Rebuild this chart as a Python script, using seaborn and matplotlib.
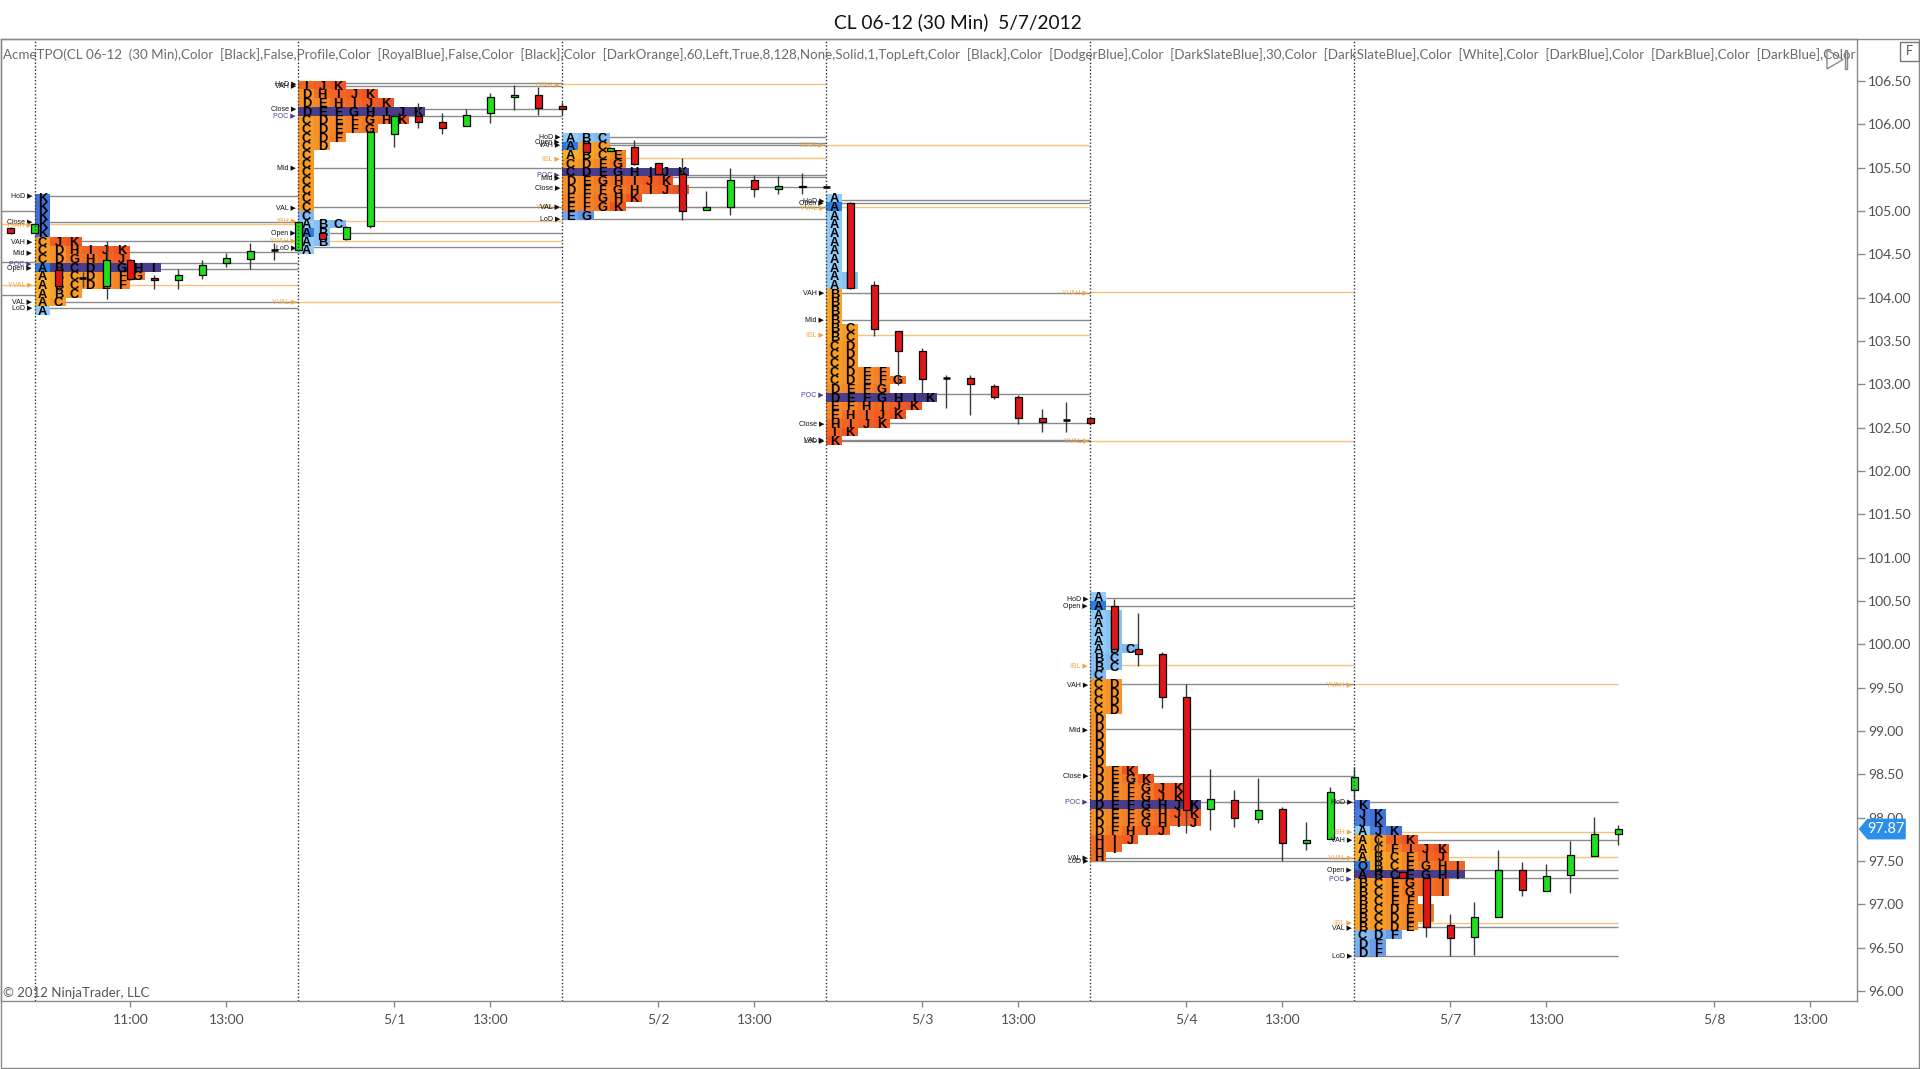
import numpy as np
import pandas as pd
import matplotlib
matplotlib.use("Agg")
import matplotlib.pyplot as plt
from matplotlib.patches import Rectangle, Polygon
from matplotlib.colors import to_rgb
import seaborn as sns

# ---------------- texts ----------------
title_text = "CL 06-12 (30 Min)  5/7/2012"
param_text = ("AcmeTPO(CL 06-12  (30 Min),Color  [Black],False,Profile,Color  [RoyalBlue],False,"
              "Color  [Black],Color  [DarkOrange],60,Left,True,8,128,None,Solid,1,TopLeft,"
              "Color  [Black],Color  [DodgerBlue],Color  [DarkSlateBlue],30,Color  [DarkSlateBlue],"
              "Color  [White],Color  [DarkBlue],Color  [DarkBlue],Color  [DarkBlue],Color  [DarkBlue]")
copyright_text = "\u00a9 2012 NinjaTrader, LLC"
last_price = 97.87

# ---------------- 30-min bars (index 0 = first bar of 4/30 session) ----------------
bar_index = list(range(-1, 67))
bar_open = [104.80, 104.74,
            104.32, 104.22, 104.13, 104.43, 104.22, 104.20, 104.26, 104.40, 104.45, 104.55, 104.55,
            104.75, 104.67, 104.82, 105.89, 106.09, 106.02, 105.98, 106.13, 106.31, 106.34, 106.21,
            105.78, 105.69, 105.74, 105.55, 105.43, 105.01, 105.04, 105.36, 105.25, 105.29, 105.27,
            105.09, 104.14, 103.61, 103.38, 103.07, 103.07, 102.98, 102.85, 102.61, 102.59, 102.61,
            100.44, 99.95, 99.89, 99.39, 98.10, 98.21, 97.98, 98.10, 97.71, 97.76, 98.32,
            97.40, 97.37, 97.30, 96.76, 96.62, 96.85, 97.40, 97.16, 97.34, 97.56, 97.81]
bar_high = [104.81, 104.85,
            104.38, 104.30, 104.65, 104.44, 104.26, 104.33, 104.43, 104.51, 104.63, 104.63, 104.88,
            104.76, 104.82, 105.93, 106.13, 106.25, 106.13, 106.17, 106.36, 106.45, 106.43, 106.26,
            105.79, 105.74, 105.82, 105.55, 105.61, 105.23, 105.49, 105.41, 105.40, 105.44, 105.30,
            105.10, 104.19, 103.61, 103.42, 103.11, 103.11, 103.00, 102.88, 102.71, 102.80, 102.62,
            100.52, 100.36, 99.91, 99.54, 98.56, 98.32, 98.46, 98.12, 97.95, 98.36, 98.58,
            97.78, 97.38, 97.34, 96.89, 97.03, 97.63, 97.49, 97.47, 97.73, 98.01, 97.92]
bar_low = [104.73, 104.74,
           104.08, 104.12, 103.98, 104.20, 104.10, 104.10, 104.21, 104.35, 104.33, 104.43, 104.55,
           104.67, 104.66, 104.80, 105.74, 105.96, 105.89, 105.98, 106.01, 106.16, 106.11, 106.11,
           105.67, 105.69, 105.53, 105.41, 104.90, 105.01, 104.95, 105.16, 105.19, 105.19, 105.25,
           104.10, 103.56, 102.99, 102.88, 102.73, 102.65, 102.83, 102.54, 102.45, 102.45, 102.53,
           99.93, 99.75, 99.27, 97.82, 97.86, 97.89, 97.94, 97.50, 97.63, 97.75, 98.22,
           97.28, 97.30, 96.62, 96.41, 96.42, 96.85, 97.10, 97.16, 97.13, 97.56, 97.69]
bar_close = [104.74, 104.85,
             104.13, 104.22, 104.43, 104.21, 104.20, 104.26, 104.38, 104.46, 104.54, 104.55, 104.87,
             104.68, 104.81, 105.91, 106.09, 106.02, 105.96, 106.11, 106.31, 106.34, 106.19, 106.17,
             105.68, 105.73, 105.54, 105.43, 105.00, 105.04, 105.36, 105.25, 105.29, 105.27, 105.27,
             104.11, 103.64, 103.38, 103.06, 103.07, 103.00, 102.85, 102.61, 102.57, 102.59, 102.55,
             99.95, 99.89, 99.39, 98.09, 98.22, 98.00, 98.09, 97.71, 97.74, 98.30, 98.47,
             97.40, 97.31, 96.74, 96.61, 96.85, 97.40, 97.17, 97.33, 97.57, 97.81, 97.87]

# ---------------- sessions ----------------
session_start = [0, 11, 22, 33, 44, 55]
session_len = 11

# TPO profiles: top row price, rows of letters (top -> bottom), VA high / low, POC row, open row
tpo_top = [105.15, 106.45, 105.85, 105.15, 100.55, 98.15]
tpo_rows_1 = ["K", "K", "K", "K", "K", "CJK", "CDHIJK", "CDGHIJ", "ABCDEGHI", "ABCDEFG",
              "ABCDEF", "ABC", "AC", "A"]
tpo_rows_2 = ["IJK", "DHIJK", "DEHIJK", "DEFGHIJK", "CDEFGHK", "CDEFG", "CDF", "CD",
              "C", "C", "C", "C", "C", "C", "C", "C", "ABC", "AB", "AB", "A"]
tpo_rows_3 = ["ABC", "ABC", "ABCE", "CDEG", "CDEGHIJK", "DEGHIJK", "DEFGHIJK", "EFGHK",
              "EFGK", "EG"]
tpo_rows_4 = ["A", "A", "A", "A", "A", "A", "A", "A", "A", "AB", "AB",
              "B", "B", "B", "B", "BC", "BC", "CD", "CD", "CD", "CDEF", "CDEFG", "DEFG",
              "DEFGHIK", "EFHIJK", "EHIJK", "HIJK", "IK", "K"]
tpo_rows_5 = ["A", "A", "AB", "AB", "AB", "AB", "ABC", "BC", "BC", "C",
              "CD", "CD", "CD", "CD", "D", "D", "D", "D", "D", "D",
              "DEK", "DEGK", "DEFGJK", "DEFGJK", "DEFGHJK", "DEFGHJK", "DEFGHIJ", "DFHIJ",
              "HIJ", "HI", "H"]
tpo_rows_6 = ["K", "JK", "JK", "AJK", "ACIK", "ACFIJK", "ABCEIJ", "OBCEGHI", "ABCEGHI",
              "BCEGHI", "BCEGHI", "BCEF", "BCDEF", "BCDEF", "BCDE", "CDF", "DF", "DF"]
tpo_rows = [tpo_rows_1, tpo_rows_2, tpo_rows_3, tpo_rows_4, tpo_rows_5, tpo_rows_6]
tpo_va_high = [104.65, 106.45, 105.75, 104.05, 99.55, 97.75]
tpo_va_low = [103.95, 105.05, 105.05, 102.35, 97.55, 96.75]
tpo_poc = [104.35, 106.15, 105.45, 102.85, 98.15, 97.35]
tpo_open = [104.35, 104.75, 105.75, 105.05, 100.45, 97.45]

# level lines per session: (label, price, kind) kind: g=gray, o=orange, p=poc
levels_1 = [("HoD", 105.17, "g"), ("Close", 104.875, "g"), ("YVAH", 104.845, "o"),
            ("VAH", 104.65, "g"), ("Mid", 104.52, "g"), ("POC", 104.395, "p"),
            ("Open", 104.33, "g"), ("YVAL", 104.145, "o"), ("VAL", 103.95, "g"),
            ("LoD", 103.88, "g")]
levels_2 = [("HoD", 106.47, "g"), ("VAH", 106.44, "g"), ("Close", 106.18, "g"),
            ("POC", 106.10, "p"), ("Mid", 105.50, "g"), ("VAL", 105.04, "g"),
            ("IBH", 104.887, "o"), ("Open", 104.74, "g"), ("YVAH", 104.656, "o"),
            ("LoD", 104.58, "g"), ("YVAL", 103.95, "o")]
levels_3 = [("YVAH", 106.46, "o"), ("HoD", 105.856, "g"), ("Open", 105.787, "g"),
            ("VAH", 105.76, "g"), ("IBL", 105.606, "o"), ("POC", 105.414, "p"),
            ("Mid", 105.387, "g"), ("Close", 105.27, "g"), ("YVAL", 105.05, "o"),
            ("VAL", 105.05, "g"), ("LoD", 104.906, "g")]
levels_4 = [("YVAH", 105.76, "o"), ("HoD", 105.12, "g"), ("Open", 105.09, "g"),
            ("YVAL", 105.04, "o"), ("VAH", 104.056, "g"), ("Mid", 103.741, "g"),
            ("IBL", 103.568, "o"), ("POC", 102.883, "p"), ("Close", 102.549, "g"),
            ("VAL", 102.36, "g"), ("LoD", 102.345, "g")]
levels_5 = [("YVAH", 104.06, "o"), ("YVAL", 102.35, "o"), ("HoD", 100.53, "g"),
            ("Open", 100.44, "g"), ("IBL", 99.76, "o"), ("VAH", 99.54, "g"),
            ("Mid", 99.02, "g"), ("Close", 98.48, "g"), ("POC", 98.185, "p"),
            ("VAL", 97.54, "g"), ("LoD", 97.50, "g")]
levels_6 = [("YVAH", 99.54, "o"), ("HoD", 98.18, "g"), ("IBH", 97.84, "o"),
            ("VAH", 97.743, "g"), ("YVAL", 97.543, "o"), ("Open", 97.397, "g"),
            ("POC", 97.30, "p"), ("IBL", 96.79, "o"), ("VAL", 96.736, "g"),
            ("LoD", 96.405, "g")]
levels = [levels_1, levels_2, levels_3, levels_4, levels_5, levels_6]
prior_levels = [105.00, 104.41, 104.03]   # lines of the 4/27 session reaching into view

x_tick_pos = [4, 8, 15, 19, 26, 30, 37, 41, 48, 52, 59, 63, 70, 74]
x_tick_labels = ["11:00", "13:00", "5/1", "13:00", "5/2", "13:00", "5/3", "13:00",
                 "5/4", "13:00", "5/7", "13:00", "5/8", "13:00"]
y_ticks = [96.0, 96.5, 97.0, 97.5, 98.0, 98.5, 99.0, 99.5, 100.0, 100.5, 101.0, 101.5,
           102.0, 102.5, 103.0, 103.5, 104.0, 104.5, 105.0, 105.5, 106.0, 106.5]

# ---------------- style ----------------
sns.set_theme(style="white")
plt.rcParams['font.family'] = ['Lato', 'DejaVu Sans']

W, H = 1920, 1069
fig = plt.figure(figsize=(W / 100, H / 100), dpi=100)
fig.patch.set_facecolor("white")
AX_L, AX_R, AX_T, AX_B = 1.0, 1857.0, 39.3, 1001.0
ax = fig.add_axes([AX_L / W, 1 - AX_B / H, (AX_R - AX_L) / W, (AX_B - AX_T) / H])
ax.set_facecolor("white")
x_min, x_max = -1.396, 75.94
y_min, y_max = 95.886, 106.979
ax.set_xlim(x_min, x_max)
ax.set_ylim(y_min, y_max)

GRAY_LINE = "#8a8a8a"
ORANGE_LINE = "#f5c27c"
ORANGE_TEXT = "#f0a640"
POC_TEXT = "#483d8b"
UP = "#1ee11e"
DOWN = "#e31616"
CELL_W = 0.66
ROW_H = 0.1
LETTERS = "ABCDEFGHIJK"


def mix(c1, c2, t):
    a, b = to_rgb(c1), to_rgb(c2)
    return tuple(x + (y - x) * t for x, y in zip(a, b))


def cell_color(ch, in_va, is_poc, is_open_first):
    if is_open_first:
        return "#2a7fe0"
    if is_poc:
        return "#483d8b"
    t = (LETTERS.index(ch) if ch in LETTERS else 0) / 10.0
    if in_va:
        return mix("#f8ad2b", "#f05422", t)
    return mix("#93cbf7", "#4070da", t)


# ---------------- level lines ----------------
for lv in prior_levels:
    ax.hlines(lv, x_min, session_start[0], color=GRAY_LINE, lw=1, zorder=1)

for s, lvls in enumerate(levels):
    xs = session_start[s]
    xe = xs + session_len
    for lab, price, kind in lvls:
        x_from = x_min if (s == 0 and kind == "o") else xs
        col = ORANGE_LINE if kind == "o" else GRAY_LINE
        ax.hlines(price, x_from, xe, color=col, lw=1, zorder=1)
        tcol = ORANGE_TEXT if kind == "o" else (POC_TEXT if kind == "p" else "#111111")
        ax.text(xs - 0.1, price, lab + " \u25b6", ha="right", va="center", fontsize=5,
                color=tcol, family=["Liberation Sans", "DejaVu Sans"], zorder=7)

# ---------------- TPO profiles ----------------
for s in range(len(tpo_rows)):
    x0 = session_start[s]
    for i, row in enumerate(tpo_rows[s]):
        price = round(tpo_top[s] - ROW_H * i, 2)
        in_va = tpo_va_low[s] - 1e-6 <= price <= tpo_va_high[s] + 1e-6
        is_poc = abs(price - tpo_poc[s]) < 1e-6
        is_open = abs(price - tpo_open[s]) < 1e-6
        lefts = [x0 + k * CELL_W for k in range(len(row))]
        cols = [cell_color(ch, in_va, is_poc, is_open and k == 0) for k, ch in enumerate(row)]
        ax.bar(lefts, ROW_H, bottom=price - ROW_H / 2, width=CELL_W, align="edge",
               color=cols, linewidth=0, zorder=2)
        for k, ch in enumerate(row):
            ax.text(x0 + (k + 0.5) * CELL_W, price - 0.052, ch, ha="center", va="baseline",
                    fontsize=9.3, fontweight="bold", color="black",
                    family=["Liberation Sans", "DejaVu Sans"], zorder=3)

# ---------------- candles ----------------
bars = pd.DataFrame({"x": bar_index, "o": bar_open, "h": bar_high, "l": bar_low, "c": bar_close})
ax.vlines(bars["x"], bars["l"], bars["h"], color="#3a3a3a", lw=1, zorder=4)
up = bars[bars["c"] > bars["o"]]
dn = bars[bars["c"] < bars["o"]]
dj = bars[bars["c"] == bars["o"]]
ax.bar(up["x"], up["c"] - up["o"], bottom=up["o"], width=0.27, color=UP,
       edgecolor="black", linewidth=0.9, zorder=5)
ax.bar(dn["x"], dn["o"] - dn["c"], bottom=dn["c"], width=0.27, color=DOWN,
       edgecolor="black", linewidth=0.9, zorder=5)
ax.hlines(dj["c"], dj["x"] - 0.14, dj["x"] + 0.14, color="black", lw=1.8, zorder=5)

# ---------------- session separators ----------------
for xs in session_start:
    ax.axvline(xs, color="#333333", lw=1, ls=(0, (1, 1.5)), zorder=6)

# ---------------- axes ----------------
ax.yaxis.tick_right()
ax.set_yticks(y_ticks)
ax.set_yticklabels([f"{v:.2f}" for v in y_ticks])
ax.set_xticks(x_tick_pos)
ax.set_xticklabels(x_tick_labels)
ax.tick_params(axis="y", which="major", left=False, right=True, length=6, width=1,
               color=GRAY_LINE, labelsize=10, labelcolor="#505050", pad=2)
ax.tick_params(axis="x", which="major", bottom=True, length=4, width=1,
               color=GRAY_LINE, labelsize=10, labelcolor="#505050", pad=5)
ax.grid(False)
for sp in ax.spines.values():
    sp.set_color(GRAY_LINE)
    sp.set_linewidth(1)
    sp.set_visible(True)

ax.text(0.0012, 0.9844, param_text, transform=ax.transAxes, ha="left", va="center",
        fontsize=9.6, color="#6b6b6b", clip_on=True, zorder=8)
ax.text(0.0012, 0.0083, copyright_text, transform=ax.transAxes, ha="left", va="center",
        fontsize=9.5, color="#555555", zorder=8)

# last price tag
ytr = ax.get_yaxis_transform()
tag = Polygon([(1.0014, last_price), (1.0058, last_price + 0.112), (1.0259, last_price + 0.112),
               (1.0259, last_price - 0.112), (1.0058, last_price - 0.112)],
              closed=True, transform=ytr, facecolor="#2b8fea", edgecolor="#2b8fea",
              clip_on=False, zorder=9)
ax.add_patch(tag)
ax.text(1.0158, last_price, f"{last_price:.2f}", transform=ytr, ha="center", va="center",
        fontsize=10.5, color="white", clip_on=False, zorder=10)


def fx(px):
    return px / W


def fy(py):
    return 1 - py / H


# outer frame
fig.add_artist(Rectangle((fx(0.5), fy(H - 1.0)), (W - 1.5) / W, (H - 1.0 - AX_T) / H,
                         transform=fig.transFigure, fill=False, ec=GRAY_LINE, lw=1))
# 'F' box and navigation icon
fig.add_artist(Rectangle((fx(1900), fy(60.7)), 18.5 / W, 19 / H, transform=fig.transFigure,
                         fill=False, ec="#777777", lw=1))
fig.text(fx(1909.2), fy(51.2), "F", ha="center", va="center", fontsize=9, color="#555555")
fig.add_artist(Polygon([(fx(1827), fy(50)), (fx(1843), fy(59.5)), (fx(1827), fy(69))],
                       closed=True, transform=fig.transFigure, fill=False, ec="#888888", lw=1))
fig.add_artist(Rectangle((fx(1844.5), fy(69)), 2.5 / W, 19 / H, transform=fig.transFigure,
                         fill=False, ec="#888888", lw=1))

fig.text(fx(958), fy(22), title_text, ha="center", va="center", fontsize=13.8, color="#111111")

fig.savefig("out.png", dpi=100, facecolor="white")
